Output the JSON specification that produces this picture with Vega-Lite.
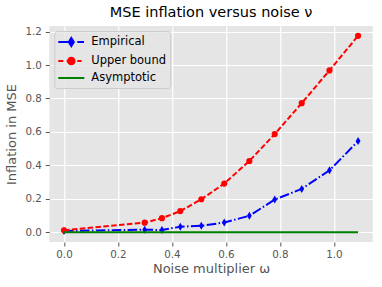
{
  "$schema": "https://vega.github.io/schema/vega-lite/v6.json",
  "width": 323.5,
  "height": 216,
  "autosize": {"type": "none"},
  "padding": {"left": 49.3, "top": 26, "right": 9.2, "bottom": 45},
  "background": "white",
  "title": {"text": "MSE inflation versus noise ν", "font": "DejaVu Sans", "fontSize": 14.5, "fontWeight": "normal", "color": "#000000", "anchor": "middle", "offset": 6},
  "config": {
    "view": {"fill": "#E5E5E5", "stroke": null},
    "axis": {"domain": false, "gridColor": "#FFFFFF", "gridWidth": 1.2, "gridOpacity": 1, "tickColor": "#555555", "tickSize": 4, "tickWidth": 1, "labelColor": "#555555", "labelFont": "DejaVu Sans", "labelFontSize": 10.3, "titleColor": "#555555", "titleFont": "DejaVu Sans", "titleFontSize": 13, "titleFontWeight": "normal"}
  },
  "data": {"values": [
    {"series": "Empirical", "x": 0.0, "y": 0.007},
    {"series": "Empirical", "x": 0.299, "y": 0.015},
    {"series": "Empirical", "x": 0.363, "y": 0.013},
    {"series": "Empirical", "x": 0.431, "y": 0.033},
    {"series": "Empirical", "x": 0.509, "y": 0.038},
    {"series": "Empirical", "x": 0.594, "y": 0.058},
    {"series": "Empirical", "x": 0.687, "y": 0.098},
    {"series": "Empirical", "x": 0.781, "y": 0.195},
    {"series": "Empirical", "x": 0.881, "y": 0.259},
    {"series": "Empirical", "x": 0.984, "y": 0.37},
    {"series": "Empirical", "x": 1.09, "y": 0.545},
    {"series": "Upper bound", "x": 0.0, "y": 0.011},
    {"series": "Upper bound", "x": 0.299, "y": 0.057},
    {"series": "Upper bound", "x": 0.363, "y": 0.084},
    {"series": "Upper bound", "x": 0.431, "y": 0.126},
    {"series": "Upper bound", "x": 0.509, "y": 0.197},
    {"series": "Upper bound", "x": 0.594, "y": 0.291},
    {"series": "Upper bound", "x": 0.687, "y": 0.426},
    {"series": "Upper bound", "x": 0.781, "y": 0.587},
    {"series": "Upper bound", "x": 0.881, "y": 0.772},
    {"series": "Upper bound", "x": 0.984, "y": 0.968},
    {"series": "Upper bound", "x": 1.09, "y": 1.175},
    {"series": "Asymptotic", "x": 0.0, "y": 0.0},
    {"series": "Asymptotic", "x": 0.299, "y": 0.0},
    {"series": "Asymptotic", "x": 0.363, "y": 0.0},
    {"series": "Asymptotic", "x": 0.431, "y": 0.0},
    {"series": "Asymptotic", "x": 0.509, "y": 0.0},
    {"series": "Asymptotic", "x": 0.594, "y": 0.0},
    {"series": "Asymptotic", "x": 0.687, "y": 0.0},
    {"series": "Asymptotic", "x": 0.781, "y": 0.0},
    {"series": "Asymptotic", "x": 0.881, "y": 0.0},
    {"series": "Asymptotic", "x": 0.984, "y": 0.0},
    {"series": "Asymptotic", "x": 1.09, "y": 0.0}
  ]},
  "encoding": {
    "x": {"field": "x", "type": "quantitative", "scale": {"domain": [-0.0545, 1.1445], "nice": false, "zero": false},
      "axis": {"values": [0, 0.2, 0.4, 0.6, 0.8, 1.0], "format": ".1f", "title": "Noise multiplier ω", "labelPadding": 3, "titlePadding": 3}},
    "y": {"field": "y", "type": "quantitative", "scale": {"domain": [-0.05875, 1.23375], "nice": false, "zero": false},
      "axis": {"values": [0, 0.2, 0.4, 0.6, 0.8, 1.0, 1.2], "format": ".1f", "title": "Inflation in MSE", "labelPadding": 4, "titlePadding": 6}},
    "color": {"field": "series", "type": "nominal",
      "scale": {"domain": ["Empirical", "Upper bound", "Asymptotic"], "range": ["#0000FF", "#FF0000", "#008000"]},
      "legend": {
        "title": null, "orient": "none", "legendX": 5, "legendY": 5,
        "padding": 4, "fillColor": "rgba(229,229,229,0.8)", "strokeColor": "#CCCCCC", "cornerRadius": 3,
        "labelFont": "DejaVu Sans", "labelFontSize": 11.5, "labelColor": "#000000",
        "symbolSize": 144, "symbolStrokeWidth": 2, "rowPadding": 2, "labelOffset": 19,
        "encode": {"symbols": {"update": {
          "shape": {"signal": "datum.value === 'Empirical' ? 'M-2.17,0H0.55M1,0H2.12M0,-0.67L0.42,0L0,0.67L-0.42,0Z' : datum.value === 'Upper bound' ? 'M-2.17,0H-1.33M-0.78,0H0.58M1,0H1.72M-0.55,0A0.55,0.55,0,1,0,0.55,0A0.55,0.55,0,1,0,-0.55,0Z' : 'M-2.17,0H2.17'"},
          "fill": {"signal": "datum.value === 'Empirical' ? '#0000FF' : datum.value === 'Upper bound' ? '#FF0000' : 'transparent'"},
          "stroke": {"signal": "datum.value === 'Empirical' ? '#0000FF' : datum.value === 'Upper bound' ? '#FF0000' : '#008000'"},
          "strokeDash": {"value": []},
          "strokeWidth": {"value": 2},
          "opacity": {"value": 1},
          "x": {"value": 13}
        }}}
      }}
  },
  "layer": [
    {"transform": [{"filter": "datum.series === 'Empirical'"}],
     "mark": {"type": "line", "strokeWidth": 2, "strokeDash": [9.6, 2.4, 1.5, 2.4]}},
    {"transform": [{"filter": "datum.series === 'Empirical'"}],
     "mark": {"type": "point", "filled": true, "opacity": 1, "size": 64, "shape": "M0,-1L0.6,0L0,1L-0.6,0Z", "strokeWidth": 1}},
    {"transform": [{"filter": "datum.series === 'Upper bound'"}],
     "mark": {"type": "line", "strokeWidth": 2, "strokeDash": [5.5, 2.4]}},
    {"transform": [{"filter": "datum.series === 'Upper bound'"}],
     "mark": {"type": "point", "filled": true, "opacity": 1, "size": 38, "shape": "circle"}},
    {"transform": [{"filter": "datum.series === 'Asymptotic'"}],
     "mark": {"type": "line", "strokeWidth": 2}}
  ]
}
